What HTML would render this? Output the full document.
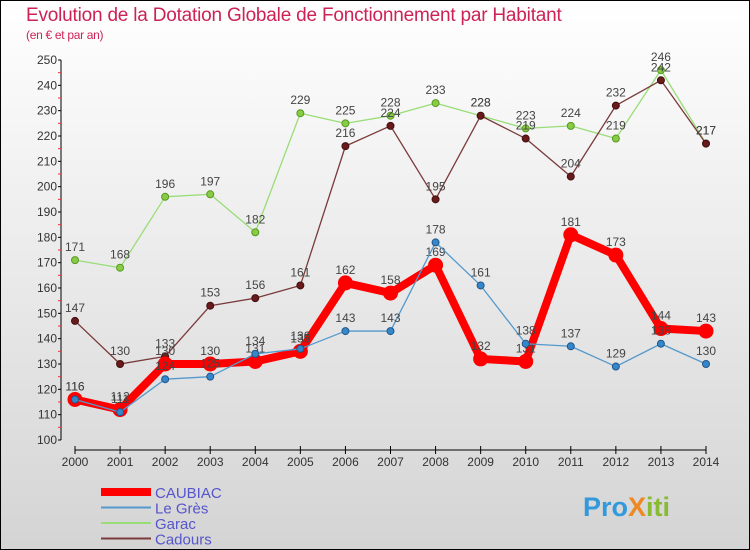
<!DOCTYPE html>
<html><head><meta charset="utf-8"><style>
body{margin:0;}
#c{width:750px;height:550px;position:relative;overflow:hidden;font-family:"Liberation Sans","DejaVu Sans",sans-serif;}
</style></head><body>
<div id="c">
<svg id="s" width="750" height="550" xmlns="http://www.w3.org/2000/svg">
<defs><linearGradient id="bg" x1="0" y1="0" x2="0" y2="1"><stop offset="0" stop-color="#ffffff"/><stop offset="1" stop-color="#d4d4d4"/></linearGradient></defs>
<rect x="0.5" y="0.5" width="749" height="549" fill="url(#bg)" stroke="#000"/>
<text x="26" y="21" font-size="19" fill="#cc2255" style="letter-spacing:-0.2px">Evolution de la Dotation Globale de Fonctionnement par Habitant</text>
<text x="26" y="39" font-size="12" fill="#cc2255" style="letter-spacing:-0.3px">(en € et par an)</text>
<g id="axes"></g><g id="series"></g><g id="legend"></g>
<text x="583" y="516" font-size="27" font-weight="bold"><tspan fill="#3399dd">Pro</tspan><tspan fill="#ee8822">X</tspan><tspan fill="#88bb33">iti</tspan></text>
</svg></div>
<script>
const years=[2000,2001,2002,2003,2004,2005,2006,2007,2008,2009,2010,2011,2012,2013,2014];
const caubiac=[116,112,130,130,131,135,162,158,169,132,131,181,173,144,143];
const legres=[116,111,124,125,134,136,143,143,178,161,138,137,129,138,130];
const garac=[171,168,196,197,182,229,225,228,233,228,223,224,219,246,217];
const cadours=[147,130,133,153,156,161,216,224,195,228,219,204,232,242,217];
const yTicks=[100,110,120,130,140,150,160,170,180,190,200,210,220,230,240,250];
const NS="http://www.w3.org/2000/svg";
const x=i=>75+i*(706-75)/(years.length-1);
const y=v=>440-(v-100)*380/150;
function mk(t,a,p){const e=document.createElementNS(NS,t);for(const k in a)e.setAttribute(k,a[k]);p.appendChild(e);return e;}
const ax=document.getElementById('axes');
let l=mk('line',{x1:61,y1:60,x2:61,y2:440,stroke:'#000'},ax);


yTicks.forEach(v=>{
 const t=mk('text',{x:57,y:y(v)+4,'font-size':12,fill:'#333','text-anchor':'end'},ax);t.textContent=v;
 
 
 mk('line',{x1:58,y1:y(v),x2:61,y2:y(v),stroke:'#000'},ax);
 if(v<250){mk('line',{x1:58,y1:y(v+5),x2:61,y2:y(v+5),stroke:'#e33'},ax);}
});
l=mk('line',{x1:75,y1:450,x2:706,y2:450,stroke:'#000'},ax);


years.forEach((yr,i)=>{
 mk('line',{x1:x(i),y1:446,x2:x(i),y2:454,stroke:'#000'},ax);
 const t=mk('text',{x:x(i),y:466,'font-size':12,fill:'#333','text-anchor':'middle'},ax);t.textContent=yr;
 
 
});
const sg=document.getElementById('series');
function series(name,data,color,w,r,fill,stroke){
 const g=mk('g',{},sg);
 
 
 const p=mk('polyline',{points:data.map((v,i)=>x(i)+','+y(v)).join(' '),fill:'none',stroke:color,'stroke-width':w,'stroke-linejoin':'round'},g);
 
 
 data.forEach((v,i)=>{
  const c=mk('circle',{cx:x(i),cy:y(v),r:r,fill:fill,stroke:stroke,'stroke-width':1},g);
  
  
  const t=mk('text',{x:x(i),y:y(v)-9,'font-size':12,fill:'#444','text-anchor':'middle'},g);t.textContent=v;
  
  
 });
}
series('garac',garac,'#99dd77',1.3,3.5,'#88cc44','#559922');
series('cadours',cadours,'#7a3a3a',1.3,3.5,'#6a1a1a','#401010');
series('caubiac',caubiac,'#ff0000',8,7,'#ff0000','#ff0000');
series('le-gres',legres,'#5599cc',1.3,3.5,'#3388cc','#225588');
const lg=document.getElementById('legend');
[['CAUBIAC','#ff0000',8],['Le Grès','#5599cc',2],['Garac','#99dd77',2],['Cadours','#7a3a3a',2]].forEach((d,i)=>{
 const yy=492+i*15.5;
 const ln=mk('line',{x1:101,y1:yy,x2:151,y2:yy,stroke:d[1],'stroke-width':d[2]},lg);
 
 
 const t=mk('text',{x:155,y:yy+6,'font-size':15,fill:'#5555cc'},lg);t.textContent=d[0];
 
 
});
</script>
</body></html>
